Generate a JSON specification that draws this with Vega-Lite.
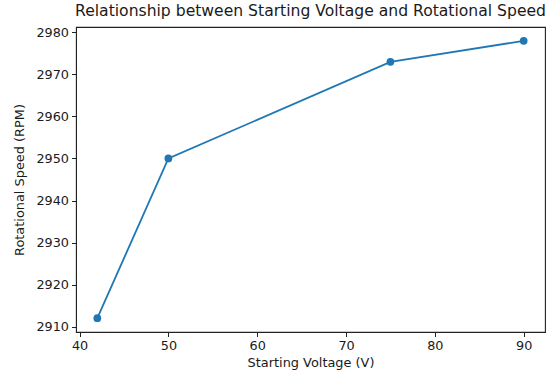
{
  "$schema": "https://vega.github.io/schema/vega-lite/v6.json",
  "width": 469,
  "height": 305,
  "autosize": {"type": "none"},
  "padding": {"left": 76, "top": 27, "right": 1, "bottom": 40},
  "background": "white",
  "title": {
    "text": "Relationship between Starting Voltage and Rotational Speed",
    "font": "DejaVu Sans",
    "fontSize": 15.6,
    "fontWeight": "normal",
    "color": "#1a1a1a",
    "anchor": "middle",
    "offset": 7
  },
  "config": {
    "view": {"stroke": "#222222", "strokeWidth": 1.1},
    "axis": {
      "labelFont": "DejaVu Sans",
      "labelFontSize": 12.8,
      "labelColor": "#1a1a1a",
      "titleFont": "DejaVu Sans",
      "titleFontSize": 12.9,
      "titleFontWeight": "normal",
      "titleColor": "#1a1a1a",
      "grid": false,
      "domainColor": "#222222",
      "tickColor": "#222222",
      "tickSize": 4.5,
      "labelPadding": 3
    }
  },
  "data": {
    "values": [
      {"voltage": 42, "rpm": 2912},
      {"voltage": 50, "rpm": 2950},
      {"voltage": 75, "rpm": 2973},
      {"voltage": 90, "rpm": 2978}
    ]
  },
  "encoding": {
    "x": {
      "field": "voltage",
      "type": "quantitative",
      "title": "Starting Voltage (V)",
      "scale": {"domain": [39.6, 92.4], "nice": false, "zero": false},
      "axis": {"values": [40, 50, 60, 70, 80, 90], "format": "d", "titlePadding": 4}
    },
    "y": {
      "field": "rpm",
      "type": "quantitative",
      "title": "Rotational Speed (RPM)",
      "scale": {"domain": [2908.7, 2981.3], "nice": false, "zero": false},
      "axis": {"values": [2910, 2920, 2930, 2940, 2950, 2960, 2970, 2980], "format": "d", "titlePadding": 9}
    }
  },
  "layer": [
    {"mark": {"type": "line", "color": "#1f77b4", "strokeWidth": 1.8}},
    {"mark": {"type": "point", "filled": true, "shape": "circle", "size": 60, "color": "#1f77b4", "opacity": 1}}
  ]
}
